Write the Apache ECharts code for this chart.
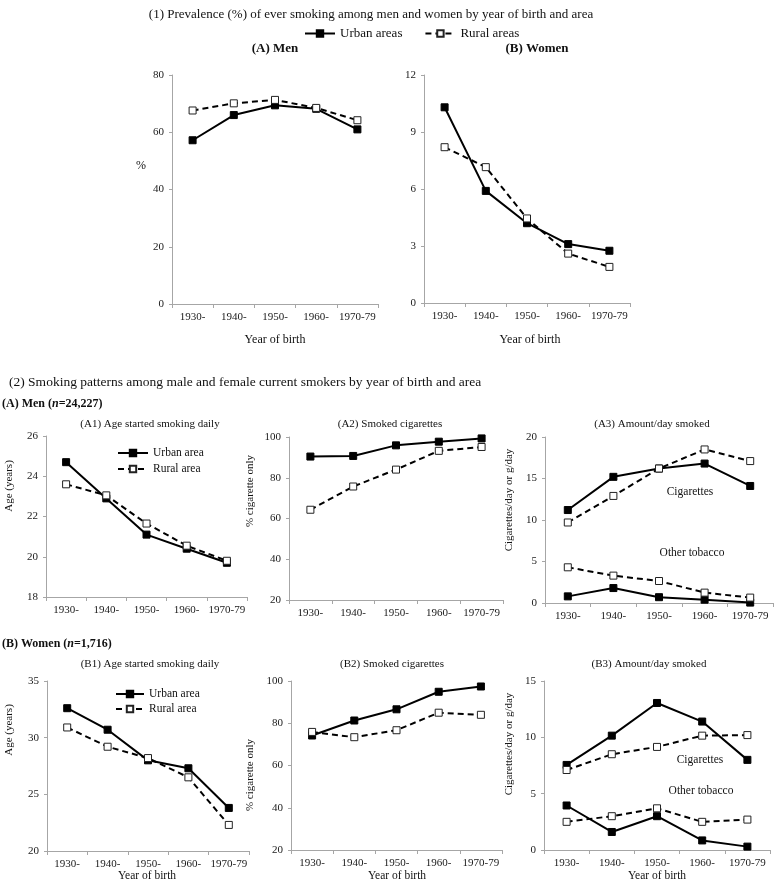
<!DOCTYPE html>
<html><head><meta charset="utf-8">
<script src="https://cdn.jsdelivr.net/npm/echarts@6/dist/echarts.min.js"></script>
<style>html,body{margin:0;padding:0;background:#fff}#c{width:776px;height:882px}</style>
</head><body><div id="c"></div>
<script>
var categories = ['1930-', '1940-', '1950-', '1960-', '1970-79'];
// (1) Prevalence
var menUrban = [57.2, 66.0, 69.4, 68.2, 61.0];
var menRural = [67.6, 70.1, 71.3, 68.5, 64.2];
var womenUrban = [10.3, 5.9, 4.2, 3.1, 2.75];
var womenRural = [8.2, 7.15, 4.45, 2.6, 1.9];
// (2A) Men
var a1Urban = [24.7, 22.9, 21.1, 20.4, 19.7];
var a1Rural = [23.6, 23.05, 21.65, 20.55, 19.8];
var a2Urban = [90.4, 90.7, 95.9, 97.7, 99.3];
var a2Rural = [64.3, 75.7, 84.0, 93.2, 95.1];
var a3CigUrban = [11.2, 15.2, 16.2, 16.8, 14.1];
var a3CigRural = [9.7, 12.9, 16.2, 18.5, 17.1];
var a3OthUrban = [0.8, 1.8, 0.7, 0.4, 0.05];
var a3OthRural = [4.3, 3.3, 2.65, 1.25, 0.65];
// (2B) Women
var b1Urban = [32.6, 30.7, 28.0, 27.3, 23.8];
var b1Rural = [30.9, 29.2, 28.2, 26.5, 22.3];
var b2Urban = [74.2, 81.3, 86.6, 94.9, 97.4];
var b2Rural = [75.9, 73.4, 76.7, 85.0, 84.0];
var b3CigUrban = [7.55, 10.15, 13.05, 11.4, 8.0];
var b3CigRural = [7.1, 8.5, 9.15, 10.15, 10.2];
var b3OthUrban = [3.95, 1.6, 3.0, 0.85, 0.3];
var b3OthRural = [2.5, 3.0, 3.7, 2.5, 2.7];
// axis ranges [min, max, interval]
var yRanges = [[0, 80, 20], [0, 12, 3], [18, 26, 2], [20, 100, 20], [0, 20, 5], [20, 35, 5], [20, 100, 20], [0, 15, 5]];

var FONT = '"Liberation Serif", "Times New Roman", serif';
var grids = [
  {left: 172, top: 75, width: 206, height: 229},
  {left: 424, top: 75, width: 206, height: 228},
  {left: 46, top: 436, width: 201, height: 161},
  {left: 289, top: 437, width: 214, height: 163},
  {left: 545, top: 437, width: 228, height: 166},
  {left: 47, top: 681, width: 202, height: 170},
  {left: 291, top: 681, width: 211, height: 169},
  {left: 544, top: 681, width: 226, height: 169}
];
var axisCol = '#a6a6a6';
var xAxes = grids.map(function (g, i) {
  return {
    type: 'category', gridIndex: i, data: categories, boundaryGap: true,
    axisLine: {lineStyle: {color: axisCol, width: 1}},
    axisTick: {show: true, length: 4, lineStyle: {color: axisCol}},
    axisLabel: {fontFamily: FONT, fontSize: 11, color: '#1a1a1a', margin: 8, interval: 0}
  };
});
var yAxes = grids.map(function (g, i) {
  var r = yRanges[i];
  return {
    type: 'value', gridIndex: i, min: r[0], max: r[1], interval: r[2],
    splitLine: {show: false},
    axisLine: {show: true, lineStyle: {color: axisCol, width: 1}},
    axisTick: {show: true, length: 3, lineStyle: {color: axisCol}},
    axisLabel: {fontFamily: FONT, fontSize: 11, color: '#1a1a1a', margin: 8}
  };
});

function urban(name, idx, data) {
  return {name: name, type: 'line', xAxisIndex: idx, yAxisIndex: idx, data: data,
    symbol: 'rect', symbolSize: 7, lineStyle: {color: '#000', width: 2, type: 'solid'},
    itemStyle: {color: '#000', borderColor: '#000', borderWidth: 1}, animation: false, z: 3};
}
function rural(name, idx, data) {
  return {name: name, type: 'line', xAxisIndex: idx, yAxisIndex: idx, data: data,
    symbol: 'rect', symbolSize: 7, lineStyle: {color: '#000', width: 2, type: [6, 4]},
    itemStyle: {color: '#fff', borderColor: '#222', borderWidth: 1}, animation: false, z: 4};
}
var series = [
  urban('Urban areas', 0, menUrban), rural('Rural areas', 0, menRural),
  urban('Urban areas', 1, womenUrban), rural('Rural areas', 1, womenRural),
  urban('Urban area', 2, a1Urban), rural('Rural area', 2, a1Rural),
  urban('u2', 3, a2Urban), rural('r2', 3, a2Rural),
  urban('u3', 4, a3CigUrban), rural('r3', 4, a3CigRural),
  urban('u3b', 4, a3OthUrban), rural('r3b', 4, a3OthRural),
  urban('Urban area', 5, b1Urban), rural('Rural area', 5, b1Rural),
  urban('u5', 6, b2Urban), rural('r5', 6, b2Rural),
  urban('u6', 7, b3CigUrban), rural('r6', 7, b3CigRural),
  urban('u6b', 7, b3OthUrban), rural('r6b', 7, b3OthRural)
];

function txt(x, y, text, opts) {
  opts = opts || {};
  return {type: 'text', x: x, y: y, rotation: opts.rot || 0, silent: true,
    style: {text: text, fontFamily: FONT, fontSize: opts.size || 11, fontWeight: opts.bold ? 'bold' : 'normal',
      fill: opts.color || '#111', align: opts.align || 'center', verticalAlign: 'middle'}};
}
var R = Math.PI / 2;
var boldRich = {
  b: {fontFamily: FONT, fontSize: 12, fontWeight: 'bold', fill: '#111'},
  i: {fontFamily: FONT, fontSize: 12, fontWeight: 'bold', fontStyle: 'italic', fill: '#111'}
};
var graphics = [
  txt(371, 15, '(1) Prevalence (%) of ever smoking among men and women by year of birth and area', {size: 13}),
  txt(275, 49, '(A) Men', {size: 13, bold: true}),
  txt(537, 49, '(B) Women', {size: 13, bold: true}),
  txt(141, 166, '%', {size: 12}),
  txt(275, 340, 'Year of birth', {size: 12}),
  txt(530, 340, 'Year of birth', {size: 12}),
  txt(9, 382, '(2) Smoking patterns among male and female current smokers by year of birth and area', {size: 13.5, align: 'left'}),
  {type: 'text', x: 2, y: 404, silent: true, style: {text: '{b|(A) Men (}{i|n}{b|=24,227)}', align: 'left', verticalAlign: 'middle', rich: boldRich}},
  {type: 'text', x: 2, y: 644, silent: true, style: {text: '{b|(B) Women (}{i|n}{b|=1,716)}', align: 'left', verticalAlign: 'middle', rich: boldRich}},
  txt(150, 424, '(A1) Age started smoking daily', {size: 11}),
  txt(390, 424, '(A2) Smoked cigarettes', {size: 11}),
  txt(652, 424, '(A3) Amount/day smoked', {size: 11}),
  txt(150, 664, '(B1) Age started smoking daily', {size: 11}),
  txt(392, 664, '(B2) Smoked cigarettes', {size: 11}),
  txt(649, 664, '(B3) Amount/day smoked', {size: 11}),
  txt(9, 486, 'Age (years)', {size: 11, rot: R}),
  txt(250, 491, '% cigarette only', {size: 11, rot: R}),
  txt(509, 500, 'Cigarettes/day or g/day', {size: 11, rot: R}),
  txt(9, 730, 'Age (years)', {size: 11, rot: R}),
  txt(250, 775, '% cigarette only', {size: 11, rot: R}),
  txt(509, 744, 'Cigarettes/day or g/day', {size: 11, rot: R}),
  txt(690, 492, 'Cigarettes', {size: 11.5}),
  txt(692, 553, 'Other tobacco', {size: 11.5}),
  txt(700, 760, 'Cigarettes', {size: 11.5}),
  txt(701, 791, 'Other tobacco', {size: 11.5}),
  txt(147, 876, 'Year of birth', {size: 11.5}),
  txt(397, 876, 'Year of birth', {size: 11.5}),
  txt(657, 876, 'Year of birth', {size: 11.5})
];

var legendBase = {orient: 'horizontal', itemWidth: 30, itemHeight: 8,
  textStyle: {fontFamily: FONT, fontSize: 13, color: '#111'}, selectedMode: false};
var chart = echarts.init(document.getElementById('c'), null, {renderer: 'canvas'});
chart.setOption({
  animation: false,
  backgroundColor: '#fff',
  grid: grids,
  xAxis: xAxes,
  yAxis: yAxes,
  legend: [
    Object.assign({}, legendBase, {data: ['Urban areas', 'Rural areas'], left: 299, top: 22, itemGap: 22}),
    Object.assign({}, legendBase, {data: ['Urban area', 'Rural area'], orient: 'vertical', left: 112, top: 442, itemGap: 4, itemWidth: 30, textStyle: {fontFamily: FONT, fontSize: 11.5, color: '#111'}}),
    Object.assign({}, legendBase, {data: ['Urban area', 'Rural area'], orient: 'vertical', left: 110, top: 683, itemGap: 3, itemWidth: 28, textStyle: {fontFamily: FONT, fontSize: 11.5, color: '#111'}})
  ],
  graphic: graphics,
  series: series
});
</script>
</body></html>
